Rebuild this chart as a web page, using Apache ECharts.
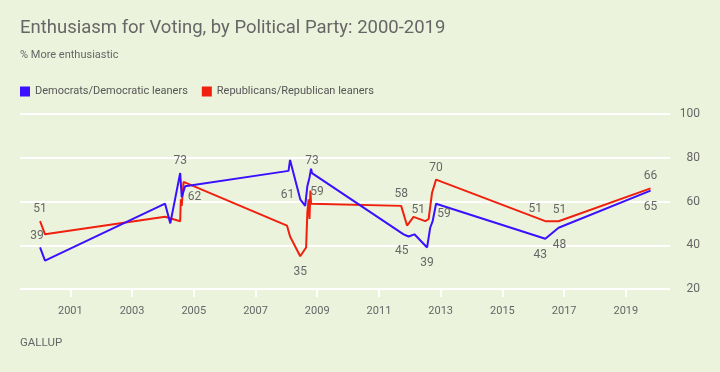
<!DOCTYPE html>
<html>
<head>
<meta charset="utf-8">
<script src="https://cdn.jsdelivr.net/npm/echarts@6/dist/echarts.min.js"></script>
<style>
html,body{margin:0;padding:0;background:#ecf3dd;}
#c{width:720px;height:372px;}
</style>
</head>
<body>
<div id="c"></div>
<script>
// ---- Data (x = decimal year, y = % more enthusiastic) ----
const demDates  = [2000.02, 2000.18, 2004.07, 2004.24, 2004.56, 2004.61, 2004.72, 2008.07, 2008.12, 2008.45, 2008.61, 2008.68, 2008.75, 2008.80, 2008.83, 2011.69, 2011.80, 2011.96, 2012.15, 2012.56, 2012.66, 2012.74, 2012.85, 2016.39, 2016.82, 2019.80];
const demValues = [39, 33, 59, 50, 73, 62, 67, 74, 79, 61, 58, 67, 71, 75, 73, 46, 45, 44, 45, 39, 48, 51, 59, 43, 48, 65];
const demLabeled = [0, 4, 5, 9, 14, 16, 19, 22, 23, 24, 25];

const repDates  = [2000.02, 2000.18, 2004.07, 2004.56, 2004.58, 2004.61, 2004.67, 2008.02, 2008.12, 2008.45, 2008.64, 2008.68, 2008.72, 2008.75, 2008.78, 2008.80, 2011.72, 2011.91, 2012.12, 2012.50, 2012.61, 2012.72, 2012.85, 2016.39, 2016.82, 2019.80];
const repValues = [51, 45, 53, 51, 61, 58, 69, 49, 44, 35, 39, 55, 61, 52, 65, 59, 58, 49, 53, 51, 52, 64, 70, 51, 51, 66];
const repLabeled = [0, 9, 15, 16, 19, 22, 23, 24, 25];

const xTicks = [2001, 2003, 2005, 2007, 2009, 2011, 2013, 2015, 2017, 2019];
const seriesNames = ['Democrats/Democratic leaners', 'Republicans/Republican leaners'];

// label placement per labeled point (styling only)
const demLabelPos = {
  0: {position: 'top', offset: [-3, -1]},
  4: {position: 'top', distance: 6},
  5: {position: 'right', offset: [2, 0]},
  9: {position: 'left', offset: [-2, -4]},
  14: {position: 'top', distance: 6},
  16: {position: 'bottom', distance: 11, offset: [-2, 0]},
  19: {position: 'bottom', distance: 10},
  22: {position: 'bottom', distance: 4, offset: [8, 0]},
  23: {position: 'bottom', distance: 10, offset: [-5, 0]},
  24: {position: 'bottom', distance: 11, offset: [1, 0]},
  25: {position: 'bottom', distance: 10}
};
const repLabelPos = {
  0: {position: 'top', distance: 6},
  9: {position: 'bottom', distance: 10},
  15: {position: 'top', distance: 6, offset: [6, 0]},
  16: {position: 'top', distance: 6},
  19: {position: 'top', distance: 5, offset: [-7, 0]},
  22: {position: 'top', distance: 6},
  23: {position: 'top', distance: 6, offset: [-10, 0]},
  24: {position: 'top', distance: 5, offset: [1, 0]},
  25: {position: 'top', distance: 6}
};

function build(dates, values, labeled, pos) {
  return dates.map((d, i) => {
    const item = {value: [d, values[i]]};
    if (labeled.indexOf(i) >= 0) {
      item.label = Object.assign({show: true, distance: 4}, pos[i] || {});
    }
    return item;
  });
}

const textColor = '#666666';
const FONT = 'Roboto';
const chart = echarts.init(document.getElementById('c'), null, {renderer: 'canvas'});

const labelStyle = {
  show: false,
  color: textColor,
  fontSize: 12,
  fontFamily: FONT,
  formatter: p => Math.round(p.value[1])
};

chart.setOption({
  backgroundColor: '#ecf3dd',
  animation: false,
  textStyle: {fontFamily: FONT},
  title: [
    {text: 'Enthusiasm for Voting, by Political Party: 2000-2019', left: 20, top: 19, padding: 0,
     textStyle: {color: '#666666', fontSize: 18.5, fontWeight: 'normal', fontFamily: FONT}},
    {text: '% More enthusiastic', left: 20, top: 50, padding: 0,
     textStyle: {color: '#666666', fontSize: 11, fontWeight: 'normal', fontFamily: FONT}}
  ],
  legend: {
    left: 15, top: 81,
    icon: 'rect', itemWidth: 10, itemHeight: 10, itemGap: 14,
    textStyle: {color: '#555555', fontSize: 11, fontFamily: FONT},
    data: seriesNames
  },
  grid: {left: 20, right: 50, top: 114, bottom: 83},
  xAxis: {
    type: 'value', min: 1999.37, max: 2020.43,
    axisLine: {show: false},
    splitLine: {show: false},
    axisTick: {show: true, customValues: xTicks, length: 8, lineStyle: {color: '#ffffff', width: 2}},
    axisLabel: {customValues: xTicks, formatter: v => String(Math.round(v)), color: textColor, fontSize: 11, margin: 17, fontFamily: FONT}
  },
  yAxis: {
    type: 'value', position: 'right', min: 20, max: 100, interval: 20,
    axisLine: {show: false}, axisTick: {show: false},
    splitLine: {show: true, lineStyle: {color: '#ffffff', width: 2}},
    axisLabel: {align: 'right', margin: 30, color: textColor, fontSize: 12, fontFamily: FONT}
  },
  series: [
    {name: seriesNames[0], type: 'line', data: build(demDates, demValues, demLabeled, demLabelPos),
     symbol: 'circle', symbolSize: 0, showSymbol: true,
     lineStyle: {color: '#3a10ff', width: 2}, itemStyle: {color: '#3a10ff'},
     label: labelStyle, emphasis: {disabled: true}, z: 3},
    {name: seriesNames[1], type: 'line', data: build(repDates, repValues, repLabeled, repLabelPos),
     symbol: 'circle', symbolSize: 0, showSymbol: true,
     lineStyle: {color: '#f0200f', width: 2}, itemStyle: {color: '#f0200f'},
     label: labelStyle, emphasis: {disabled: true}, z: 2}
  ],
  graphic: [
    {type: 'text', left: 20, top: 337,
     style: {text: 'GALLUP', fill: '#666666', font: '11.5px Roboto'}}
  ]
});
</script>
</body>
</html>
